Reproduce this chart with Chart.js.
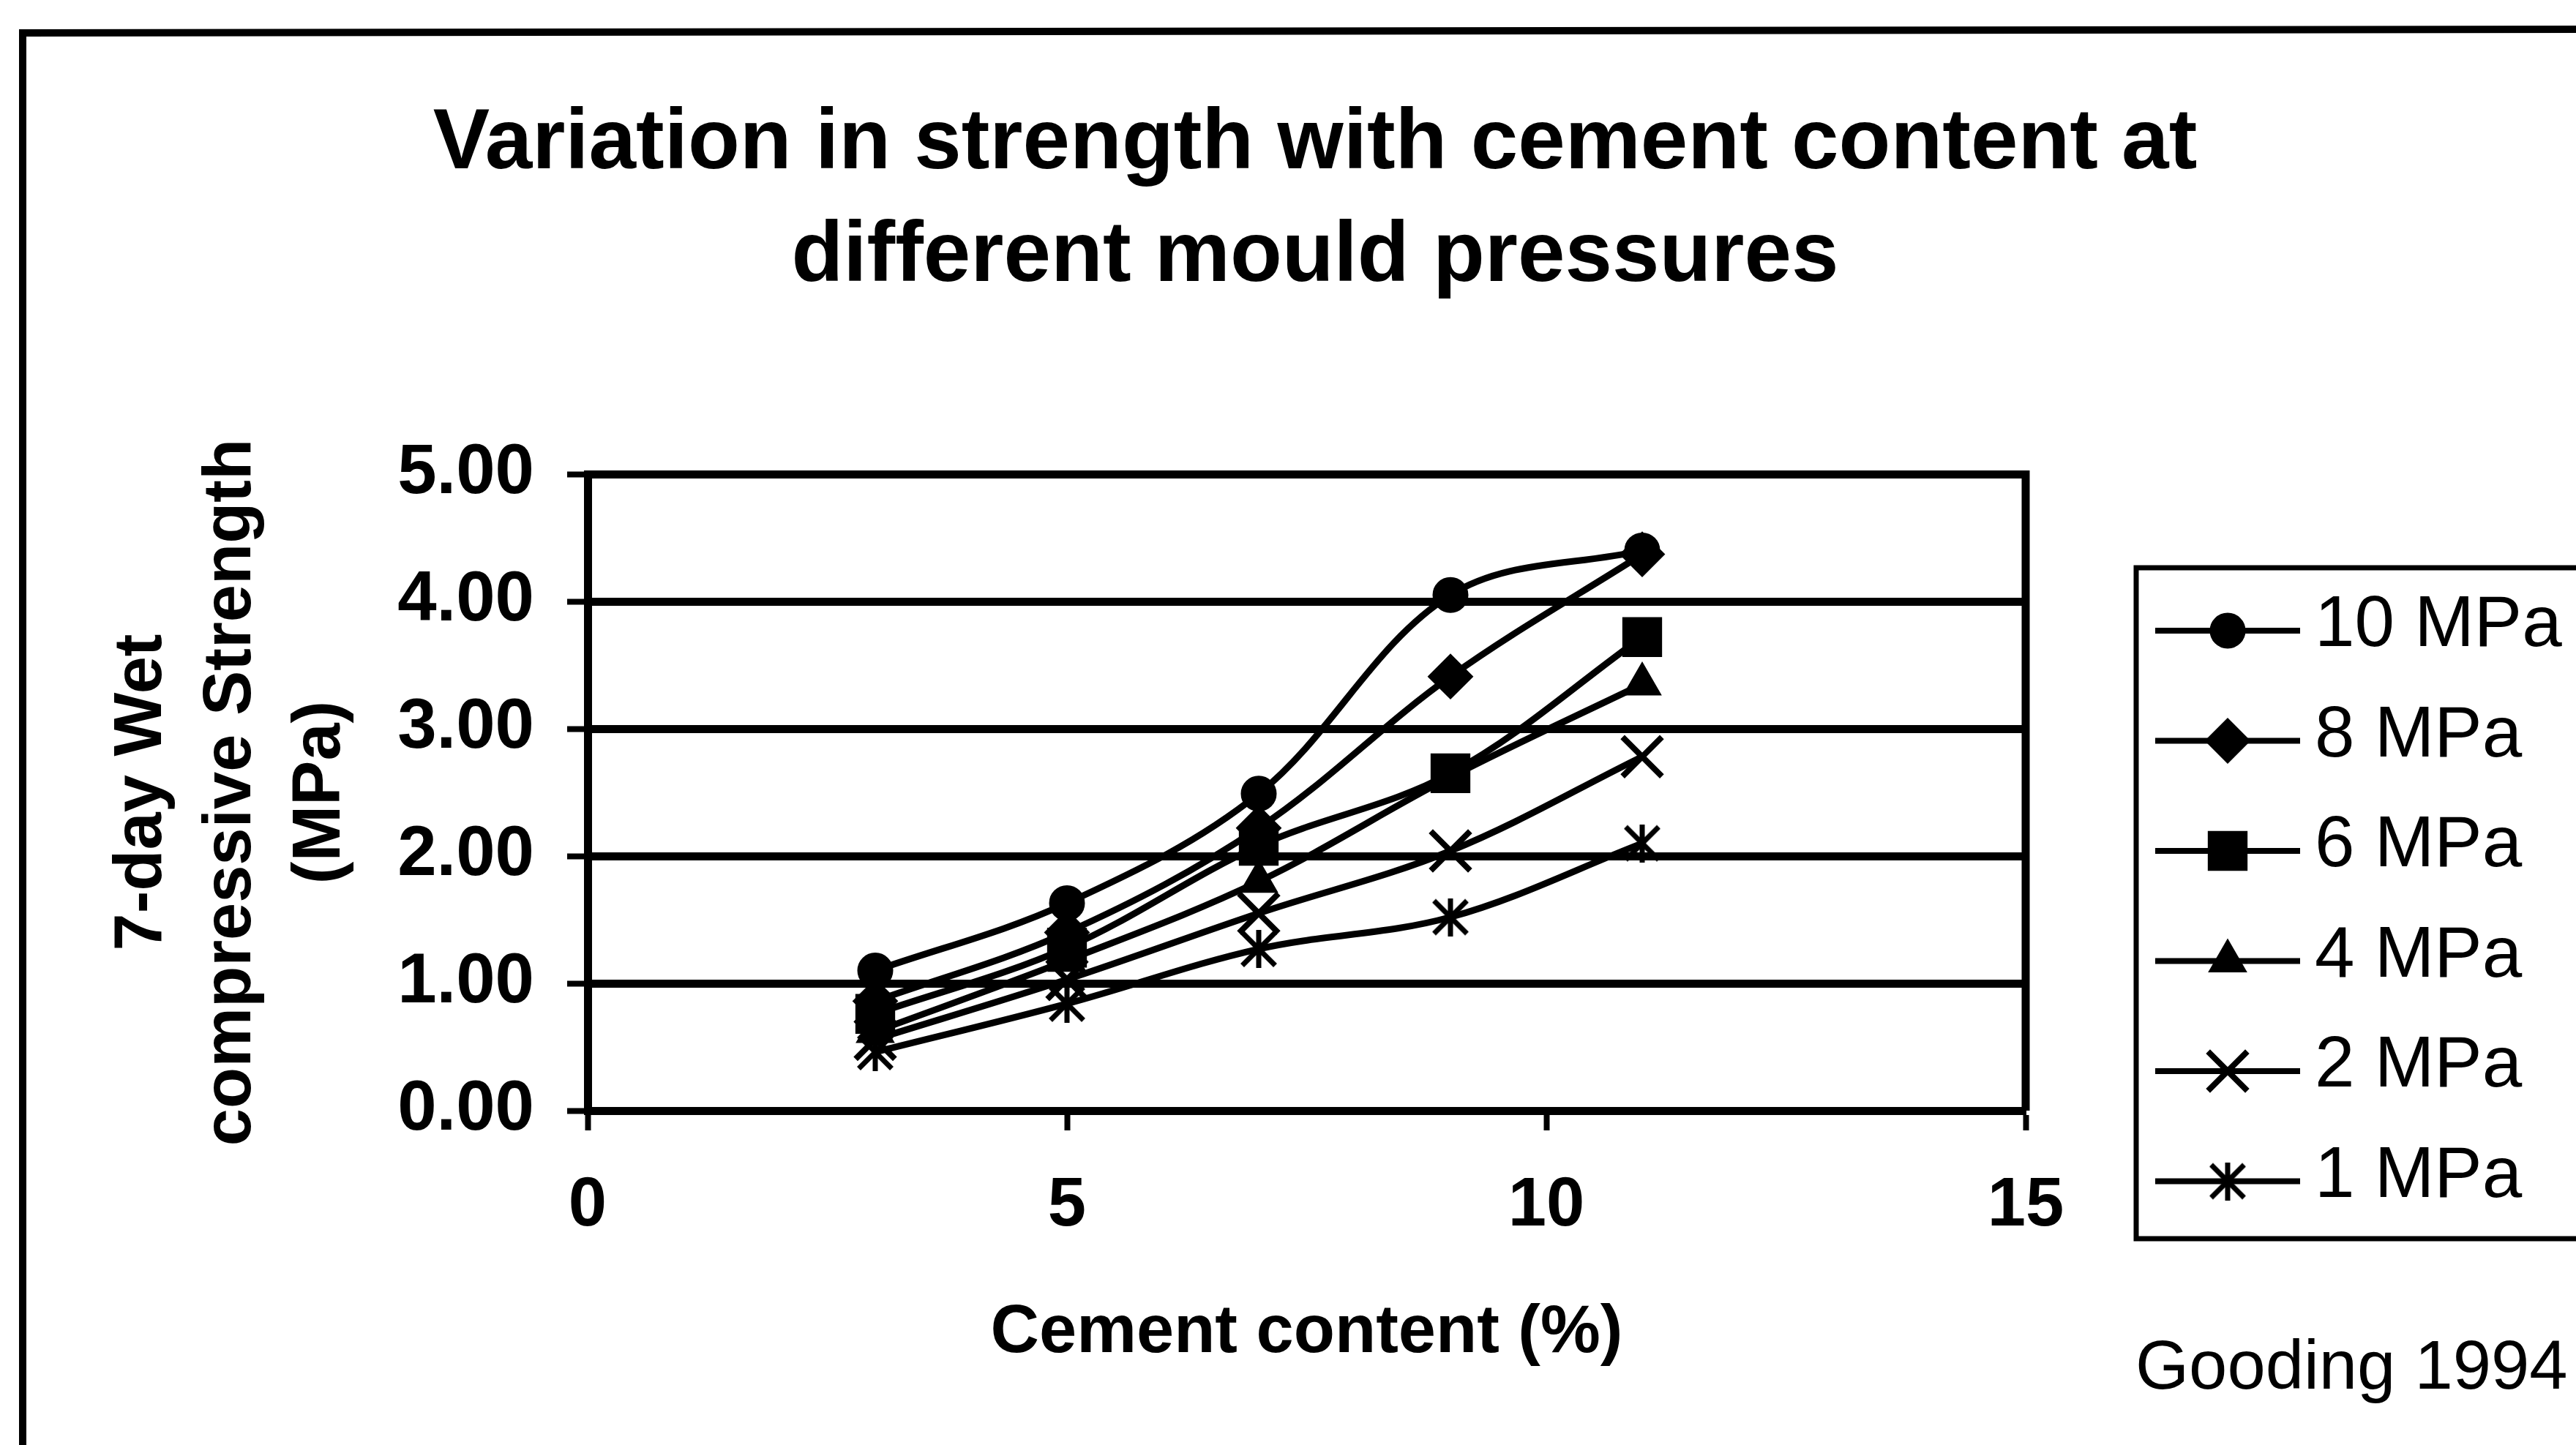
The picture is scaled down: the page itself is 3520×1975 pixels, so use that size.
<!DOCTYPE html>
<html>
<head>
<meta charset="utf-8">
<script src="https://cdn.jsdelivr.net/npm/chart.js@4.4.1/dist/chart.umd.min.js"></script>
<style>
html, body { margin: 0; padding: 0; background: #fff; }
canvas { display: block; }
</style>
</head>
<body>
<canvas id="chart" width="3520" height="1975"></canvas>
<script>
// cement content (%) on the x axis
var cementContent = [3, 5, 7, 9, 11];

// 7-day wet compressive strength (MPa), one array per mould pressure
var mould10 = [1.10, 1.63, 2.49, 4.05, 4.40];
var mould8  = [0.86, 1.40, 2.22, 3.41, 4.37];
var mould6  = [0.76, 1.28, 2.08, 2.65, 3.72];
var mould4  = [0.62, 1.18, 1.80, 2.62, 3.35];
var mould2  = [0.56, 1.03, 1.55, 2.04, 2.78];
var mould1  = [0.46, 0.84, 1.27, 1.52, 2.10];

var seriesNames = ['10 MPa', '8 MPa', '6 MPa', '4 MPa', '2 MPa', '1 MPa'];
var xTickValues = [0, 5, 10, 15];
var xTickLabels = ['0', '5', '10', '15'];
var yTickValues = [0, 1, 2, 3, 4, 5];
var yTickLabels = ['0.00', '1.00', '2.00', '3.00', '4.00', '5.00'];

var FONT = '"Liberation Sans", Arial, sans-serif';
Chart.defaults.font.family = FONT;
Chart.defaults.color = '#000';

// excel style asterisk marker: an X with a vertical bar
function makeAsterisk(size, lw) {
	var c = document.createElement('canvas');
	c.width = size;
	c.height = size;
	var g = c.getContext('2d');
	g.strokeStyle = '#000';
	g.lineWidth = lw;
	var m = lw / 2;
	g.beginPath();
	g.moveTo(m, m); g.lineTo(size - m, size - m);
	g.moveTo(size - m, m); g.lineTo(m, size - m);
	g.moveTo(size / 2, 0); g.lineTo(size / 2, size);
	g.stroke();
	return c;
}
var asterisk = makeAsterisk(52, 7);

var styles = [
	{ pointStyle: 'circle',   radius: 23, borderWidth: 3 },
	{ pointStyle: 'rectRot',  radius: 30, borderWidth: 2 },
	{ pointStyle: 'rect',     radius: 37, borderWidth: 2 },
	{ pointStyle: 'triangle', radius: 29, borderWidth: 2 },
	{ pointStyle: 'crossRot', radius: 38, borderWidth: 8 },
	{ pointStyle: asterisk,   radius: 26, borderWidth: 7 }
];

function toPoints(values) {
	return cementContent.map(function(x, i) { return { x: x, y: values[i] }; });
}

var allSeries = [mould10, mould8, mould6, mould4, mould2, mould1];
var datasets = allSeries.map(function(values, i) {
	return {
		label: seriesNames[i],
		data: toPoints(values),
		yAxisID: 'y',
		borderColor: '#000',
		backgroundColor: '#000',
		borderWidth: 9,
		tension: 0.35,
		pointStyle: styles[i].pointStyle,
		pointRadius: styles[i].radius,
		pointBorderWidth: styles[i].borderWidth,
		pointBackgroundColor: '#000',
		pointBorderColor: '#000'
	};
});

function drawMarker(ctx, st, x, y) {
	ctx.save();
	ctx.fillStyle = '#000';
	ctx.strokeStyle = '#000';
	ctx.lineWidth = st.borderWidth;
	Chart.helpers.drawPoint(ctx, { pointStyle: st.pointStyle, radius: st.radius, borderWidth: st.borderWidth, rotation: 0 }, x, y);
	ctx.restore();
}

var decor = {
	id: 'decor',
	beforeDatasetsDraw: function(chart) {
		var a = chart.chartArea, ctx = chart.ctx;
		ctx.save();
		ctx.strokeStyle = '#000';
		ctx.lineWidth = 11;
		ctx.beginPath();
		ctx.moveTo(a.right, a.top - 5);
		ctx.lineTo(a.right, a.bottom);
		ctx.stroke();
		ctx.restore();
	},
	afterDraw: function(chart) {
		var ctx = chart.ctx;
		ctx.save();
		// outer frame (only top and left are inside the picture)
		ctx.strokeStyle = '#000';
		ctx.lineWidth = 10;
		ctx.beginPath();
		ctx.moveTo(31, 1980);
		ctx.lineTo(31, 45);
		ctx.lineTo(3530, 40);
		ctx.stroke();

		// legend box
		ctx.lineWidth = 7;
		ctx.beginPath();
		ctx.moveTo(3530, 776);
		ctx.lineTo(2919, 776);
		ctx.lineTo(2919, 1693);
		ctx.lineTo(3530, 1693);
		ctx.stroke();

		ctx.font = '98px ' + FONT;
		ctx.textBaseline = 'middle';
		ctx.textAlign = 'left';
		ctx.fillStyle = '#000';
		for (var i = 0; i < seriesNames.length; i++) {
			var y = 856 + i * 150.5;
			ctx.lineWidth = 8;
			ctx.beginPath();
			ctx.moveTo(2945, y + 6);
			ctx.lineTo(3143, y + 6);
			ctx.stroke();
			drawMarker(ctx, styles[i], 3044, y + 6);
			ctx.fillText(seriesNames[i], 3163, y);
		}

		ctx.font = '94px ' + FONT;
		ctx.fillText('Gooding 1994', 2918, 1872);
		ctx.restore();
	}
};

new Chart(document.getElementById('chart'), {
	type: 'line',
	data: { datasets: datasets },
	plugins: [decor],
	options: {
		responsive: false,
		animation: false,
		devicePixelRatio: 1,
		layout: { padding: { left: 74, right: 0, top: 0, bottom: 0 } },
		plugins: {
			legend: { display: false },
			tooltip: { enabled: false },
			title: {
				display: true,
				text: ['Variation in strength with cement content at', 'different mould pressures'],
				color: '#000',
				font: { size: 116, weight: 'bold', lineHeight: '154px' },
				padding: { top: 121, bottom: 219 }
			}
		},
		scales: {
			x: {
				type: 'linear',
				min: 0,
				max: 15,
				afterBuildTicks: function(s) { s.ticks = xTickValues.map(function(v) { return { value: v }; }); },
				ticks: {
					autoSkip: false,
					maxRotation: 0,
					padding: 48,
					color: '#000',
					font: { size: 94, weight: 'bold' },
					callback: function(v) { return xTickLabels[xTickValues.indexOf(v)]; }
				},
				grid: { drawOnChartArea: false, drawTicks: true, tickLength: 27, tickWidth: 8, tickColor: '#000' },
				border: { display: true, color: '#000', width: 11 },
				title: {
					display: true,
					text: 'Cement content (%)',
					color: '#000',
					font: { size: 92, weight: 'bold', lineHeight: 1.2 },
					padding: { top: 0, bottom: 97 }
				},
				afterFit: function(s) { s.height = 457; }
			},
			y: {
				position: 'left',
				min: 0,
				max: 5,
				afterBuildTicks: function(s) { s.ticks = yTickValues.map(function(v) { return { value: v }; }); },
				ticks: {
					padding: 45,
					color: '#000',
					font: { size: 96, weight: 'bold' },
					callback: function(v) { return yTickLabels[yTickValues.indexOf(v)]; }
				},
				grid: { color: '#000', lineWidth: 11, drawTicks: true, tickLength: 28, tickWidth: 8, tickColor: '#000' },
				border: { display: true, color: '#000', width: 11 },
				title: {
					display: true,
					text: ['7-day Wet', 'compressive Strength', '(MPa)'],
					color: '#000',
					font: { size: 92, weight: 'bold', lineHeight: '122px' },
					padding: { top: 60, bottom: 0 }
				},
				afterFit: function(s) { s.width = 729; }
			},
			// empty right-hand box that keeps room for the legend
			spacer: {
				axis: 'y',
				position: 'right',
				min: 0,
				max: 5,
				ticks: { display: false },
				grid: { display: false },
				border: { display: false },
				afterFit: function(s) { s.width = 752; }
			}
		}
	}
});
</script>
</body>
</html>
